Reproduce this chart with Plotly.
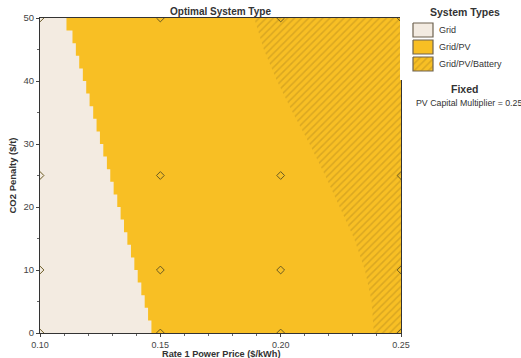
import plotly.graph_objects as go

# ---------------- data ----------------
price_range = [0.10, 0.25]          # Rate 1 Power Price ($/kWh)
co2_range = [0, 50]                 # CO2 Penalty ($/t)

# Grid | Grid/PV boundary (staircase), band edges in CO2 and price edge per band
co2_band_edges = [0, 2, 4, 6, 8, 10, 12, 14, 16, 18, 20, 22, 24, 26, 28, 30,
                  32, 34, 36, 38, 40, 42, 44, 46, 48, 50]
grid_edge_price = [0.1463, 0.1449, 0.1435, 0.1421, 0.1406, 0.1392, 0.1378, 0.1363,
                   0.1349, 0.1335, 0.1321, 0.1306, 0.1292, 0.1278, 0.1263, 0.1249,
                   0.1235, 0.1221, 0.1206, 0.1192, 0.1178, 0.1163, 0.1149, 0.1135,
                   0.1110]

# Grid/PV | Grid/PV/Battery boundary
battery_co2 = [0, 5, 10, 15, 20, 25, 30, 35, 40, 45, 50]
battery_edge_price = [0.2387, 0.2378, 0.2350, 0.2305, 0.2245, 0.2185, 0.2120,
                      0.2050, 0.1985, 0.1930, 0.1890]

# simulated points
pt_price = [0.10, 0.15, 0.20, 0.25, 0.10, 0.15, 0.20, 0.25,
            0.10, 0.15, 0.20, 0.25, 0.10, 0.15, 0.20, 0.25]
pt_co2 = [0, 0, 0, 0, 10, 10, 10, 10, 25, 25, 25, 25, 50, 50, 50, 50]

x_ticks = [0.10, 0.15, 0.20, 0.25]
x_tick_labels = ["0.10", "0.15", "0.20", "0.25"]
y_ticks = [0, 10, 20, 30, 40, 50]

type_names = ["Grid", "Grid/PV", "Grid/PV/Battery"]
fixed_text = "PV Capital Multiplier = 0.25"

# ---------------- styles ----------------
C_GRID = "#F3EBE1"
C_PV = "#F8BF24"
C_HATCH = "#BC901E"
FONT = "Liberation Sans"
W, H = 521, 358
L, R, T, B = 40, 401, 18, 333

fig = go.Figure()

# Grid/PV: whole region
fig.add_trace(go.Scatter(
    x=[price_range[0], price_range[1], price_range[1], price_range[0]],
    y=[co2_range[0], co2_range[0], co2_range[1], co2_range[1]],
    fill="toself", fillcolor=C_PV, line=dict(width=0), mode="lines",
    hoverinfo="skip", showlegend=False))

# Grid region (staircase)
gx, gy = [price_range[0]], [co2_range[0]]
for i, e in enumerate(grid_edge_price):
    gx += [e, e]
    gy += [co2_band_edges[i], co2_band_edges[i + 1]]
gx += [price_range[0]]
gy += [co2_range[1]]
fig.add_trace(go.Scatter(x=gx, y=gy, fill="toself", fillcolor=C_GRID,
                         line=dict(width=0), mode="lines",
                         hoverinfo="skip", showlegend=False))

# Battery region (hatched)
bx = battery_edge_price + [price_range[1], price_range[1]]
by = battery_co2 + [co2_range[1], co2_range[0]]
fig.add_trace(go.Scatter(
    x=bx, y=by, fill="toself", fillcolor=C_PV,
    fillpattern=dict(shape="/", fgcolor=C_HATCH, bgcolor=C_PV, size=5,
                     solidity=0.32),
    line=dict(width=0), mode="lines", hoverinfo="skip", showlegend=False))

# points
fig.add_trace(go.Scatter(
    x=pt_price, y=pt_co2, mode="markers",
    marker=dict(symbol="diamond-open", size=6, color="#6A5A22",
                line=dict(width=1, color="#6A5A22")),
    showlegend=False, cliponaxis=True))

# ---------------- legend swatches on a helper axis ----------------
sw_x0, sw_x1 = 413, 433
sw_rows = [(23, 37), (40, 54), (57, 71)]
fills = [C_GRID, C_PV, C_PV]
for k, (y0, y1) in enumerate(sw_rows):
    kw = {}
    if k == 2:
        kw["fillpattern"] = dict(shape="/", fgcolor=C_HATCH, bgcolor=C_PV,
                                 size=5, solidity=0.32)
    fig.add_trace(go.Scatter(
        x=[sw_x0, sw_x1, sw_x1, sw_x0, sw_x0], y=[y0, y0, y1, y1, y0],
        fill="toself", fillcolor=fills[k], mode="lines",
        line=dict(color="#6E6350", width=1.2),
        xaxis="x2", yaxis="y2", hoverinfo="skip", showlegend=False, **kw))

fig.update_layout(
    width=W, height=H,
    margin=dict(l=0, r=0, t=0, b=0, pad=0, autoexpand=False),
    paper_bgcolor="white", plot_bgcolor="white",
    font=dict(family=FONT, size=10, color="#333333"),
    showlegend=False,
    xaxis=dict(domain=[L / W, R / W], range=price_range, automargin=False,
               tickvals=x_ticks, ticktext=x_tick_labels,
               ticks="outside", ticklen=3, tickcolor="#444",
               minor=dict(dtick=0.01, ticks="outside", ticklen=2, tickcolor="#666"),
               showline=True, linecolor="#333", linewidth=1, mirror=True,
               showgrid=False, zeroline=False,
               tickfont=dict(size=9, color="#444")),
    yaxis=dict(domain=[1 - B / H, 1 - T / H], range=co2_range, automargin=False,
               tickvals=y_ticks, ticks="outside", ticklen=3, tickcolor="#444",
               minor=dict(dtick=5, ticks="outside", ticklen=2, tickcolor="#666"),
               showline=True, linecolor="#333", linewidth=1, mirror=True,
               showgrid=False, zeroline=False,
               tickfont=dict(size=9.5, color="#444")),
    xaxis2=dict(domain=[400 / W, 1], range=[400, W], visible=False,
                fixedrange=True, automargin=False),
    yaxis2=dict(domain=[1 - 80 / H, 1], range=[80, 0], visible=False,
                fixedrange=True, automargin=False),
)

ann = [
    dict(text="<b>Optimal System Type</b>", x=(L + R) / 2 / W, y=1 - 11 / H,
         font=dict(size=10, color="#333")),
    dict(text="<b>Rate 1 Power Price ($/kWh)</b>", x=(L + R) / 2 / W,
         y=1 - 353.5 / H, font=dict(size=9.2, color="#333")),
    dict(text="<b>CO2 Penalty ($/t)</b>", x=12 / W, y=1 - (T + B) / 2 / H,
         textangle=-90, font=dict(size=9.5, color="#333")),
    dict(text="<b>System Types</b>", x=465 / W, y=1 - 12 / H,
         font=dict(size=10.5, color="#333")),
    dict(text="<b>Fixed</b>", x=464 / W, y=1 - 89 / H,
         font=dict(size=10.5, color="#333")),
    dict(text=fixed_text, x=414 / W, y=1 - 103 / H, xanchor="left",
         font=dict(size=8.8, color="#333")),
]
for k, (y0, y1) in enumerate(sw_rows):
    ann.append(dict(text=type_names[k], x=437 / W, y=1 - (y0 + y1) / 2 / H,
                    xanchor="left", font=dict(size=9, color="#333")))
for a in ann:
    a.setdefault("xanchor", "center")
    a.setdefault("yanchor", "middle")
    fig.add_annotation(xref="paper", yref="paper", showarrow=False, **a)

fig.write_html("out.html",
               config={"displayModeBar": False},
               post_script="document.body.style.margin='0';"
                           "document.body.style.overflow='hidden';")
